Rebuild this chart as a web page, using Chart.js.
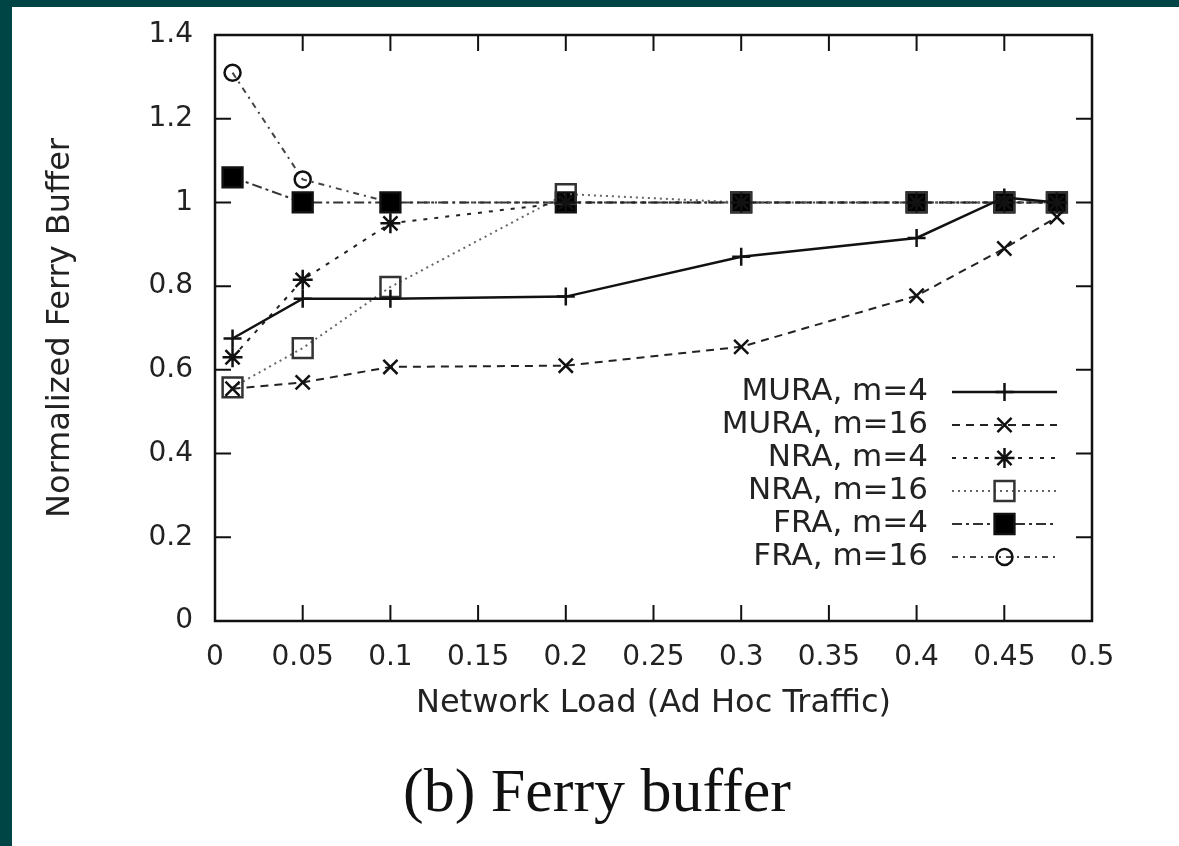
<!DOCTYPE html>
<html>
<head>
<meta charset="utf-8">
<script src="https://cdn.jsdelivr.net/npm/chart.js@4.4.0/dist/chart.umd.min.js"></script>
<style>
  html, body { margin: 0; padding: 0; width: 1179px; height: 846px; overflow: hidden; background: #004545; }
  #sheet { position: absolute; left: 12px; top: 7px; width: 1167px; height: 839px; background: #fff; }
  #wrap { position: absolute; left: 0; top: 0; width: 1167px; height: 740px; }
  #caption { position: absolute; left: 0; top: 748px; width: 1170px; text-align: center;
             font-family: 'Liberation Serif', 'DejaVu Serif', serif; font-size: 62px; color: #111; }
</style>
</head>
<body>
<div id="sheet">
  <div id="wrap"><canvas id="chart"></canvas></div>
  <div id="caption">(b) Ferry buffer</div>
</div>
<script>
// data
const loads = [0.01, 0.05, 0.1, 0.2, 0.3, 0.4, 0.45, 0.48];
const seriesNames = ['MURA, m=4', 'MURA, m=16', 'NRA, m=4', 'NRA, m=16', 'FRA, m=4', 'FRA, m=16'];
const muraM4  = [0.675, 0.77, 0.77, 0.775, 0.87, 0.915, 1.012, 1.0];
const muraM16 = [0.555, 0.57, 0.607, 0.61, 0.655, 0.777, 0.89, 0.965];
const nraM4   = [0.63, 0.815, 0.95, 1.0, 1.0, 1.0, 1.0, 1.0];
const nraM16  = [0.558, 0.652, 0.798, 1.02, 1.0, 1.0, 1.0, 1.0];
const fraM4   = [1.06, 1.0, 1.0, 1.0, 1.0, 1.0, 1.0, 1.0];
const fraM16  = [1.31, 1.055, 1.0, 1.0, 1.0, 1.0, 1.0, 1.0];
const xTickLabels = ['0', '0.05', '0.1', '0.15', '0.2', '0.25', '0.3', '0.35', '0.4', '0.45', '0.5'];
const yTickLabels = ['0', '0.2', '0.4', '0.6', '0.8', '1', '1.2', '1.4'];

const FONT = "'DejaVu Sans', sans-serif";

function pts(vals) {
    return loads.map((x, i) => ({ x: x, y: vals[i] }));
}

const styles = [
    { dash: [],            width: 2.5, color: '#111', point: 'cross',    radius: 9,  fill: '#111' },
    { dash: [8, 6],        width: 2,   color: '#222', point: 'crossRot', radius: 10, fill: '#222' },
    { dash: [4, 7],        width: 2,   color: '#222', point: 'star',     radius: 10, fill: '#222' },
    { dash: [2, 4],        width: 2,   color: '#666', point: 'rect',     radius: 14, fill: 'rgba(255,255,255,0)' },
    { dash: [10, 4, 3, 4], width: 2,   color: '#333', point: 'rect',     radius: 14, fill: '#000' },
    { dash: [6, 5, 2, 5],  width: 2,   color: '#444', point: 'circle',   radius: 8,  fill: 'rgba(255,255,255,0)' }
];
const allValues = [muraM4, muraM16, nraM4, nraM16, fraM4, fraM16];

const datasets = allValues.map((vals, i) => ({
    label: seriesNames[i],
    data: pts(vals),
    showLine: true,
    borderColor: styles[i].color,
    borderWidth: styles[i].width,
    borderDash: styles[i].dash,
    pointStyle: styles[i].point,
    pointRadius: styles[i].radius,
    pointBorderColor: i === 3 ? '#333' : '#111',
    pointBorderWidth: 2.5,
    pointBackgroundColor: styles[i].fill,
    tension: 0
}));

// gnuplot-ish frame, inward ticks and a key with samples to the right of the text
const framePlugin = {
    id: 'frame',
    afterDatasetsDraw(chart) {
        const { ctx, chartArea: a, scales } = chart;
        const tick = 16;
        ctx.save();
        ctx.strokeStyle = '#111';
        ctx.lineWidth = 2;
        scales.x.ticks.forEach(t => {
            const px = scales.x.getPixelForValue(t.value);
            ctx.beginPath();
            ctx.moveTo(px, a.bottom); ctx.lineTo(px, a.bottom - tick);
            ctx.moveTo(px, a.top); ctx.lineTo(px, a.top + tick);
            ctx.stroke();
        });
        scales.y.ticks.forEach(t => {
            const py = scales.y.getPixelForValue(t.value);
            ctx.beginPath();
            ctx.moveTo(a.left, py); ctx.lineTo(a.left + tick, py);
            ctx.moveTo(a.right, py); ctx.lineTo(a.right - tick, py);
            ctx.stroke();
        });
        ctx.lineWidth = 2.5;
        ctx.strokeRect(a.left, a.top, a.right - a.left, a.bottom - a.top);

        // key
        const textRight = a.right - 164;
        const lineL = a.right - 140, lineR = a.right - 35;
        const y0 = a.top + 357, step = 33;
        ctx.font = '31px ' + FONT;
        ctx.textAlign = 'right';
        ctx.textBaseline = 'middle';
        chart.data.datasets.forEach((ds, i) => {
            const y = y0 + i * step;
            ctx.fillStyle = '#222';
            ctx.fillText(ds.label, textRight, y);
            ctx.save();
            ctx.strokeStyle = ds.borderColor;
            ctx.lineWidth = ds.borderWidth;
            ctx.setLineDash(ds.borderDash);
            ctx.beginPath();
            ctx.moveTo(lineL, y); ctx.lineTo(lineR, y);
            ctx.stroke();
            ctx.restore();
            ctx.save();
            ctx.strokeStyle = ds.pointBorderColor;
            ctx.fillStyle = ds.pointBackgroundColor;
            ctx.lineWidth = ds.pointBorderWidth;
            Chart.helpers.drawPoint(ctx, {
                pointStyle: ds.pointStyle,
                radius: ds.pointRadius,
                rotation: 0,
                borderWidth: ds.pointBorderWidth
            }, (lineL + lineR) / 2, y);
            ctx.restore();
        });
        ctx.restore();
    }
};

new Chart(document.getElementById('chart'), {
    type: 'scatter',
    data: { datasets: datasets },
    plugins: [framePlugin],
    options: {
        responsive: true,
        maintainAspectRatio: false,
        animation: false,
        layout: { padding: { top: 28, right: 87, bottom: 0, left: 0 } },
        plugins: { legend: { display: false }, tooltip: { enabled: false } },
        scales: {
            x: {
                type: 'linear',
                min: 0, max: 0.5,
                afterFit: s => { s.height = 126; s.paddingLeft = 0; s.paddingRight = 0; },
                grid: { display: false, drawTicks: false },
                border: { display: false },
                ticks: {
                    stepSize: 0.05,
                    padding: 20,
                    color: '#222',
                    font: { family: FONT, size: 28 },
                    maxRotation: 0,
                    autoSkip: false,
                    callback: (v, i) => xTickLabels[i]
                },
                title: {
                    display: true,
                    text: 'Network Load (Ad Hoc Traffic)',
                    color: '#222',
                    font: { family: FONT, size: 32 },
                    padding: { top: 0, bottom: 24 }
                }
            },
            y: {
                type: 'linear',
                min: 0, max: 1.4,
                afterFit: s => { s.width = 203; s.paddingTop = 0; s.paddingBottom = 0; },
                grid: { display: false, drawTicks: false },
                border: { display: false },
                ticks: {
                    stepSize: 0.2,
                    padding: 22,
                    color: '#222',
                    font: { family: FONT, size: 28 },
                    callback: (v, i) => yTickLabels[i]
                },
                title: {
                    display: true,
                    text: 'Normalized Ferry Buffer',
                    color: '#222',
                    font: { family: FONT, size: 32 },
                    padding: { top: 29, bottom: 0 }
                }
            }
        }
    }
});
</script>
</body>
</html>
